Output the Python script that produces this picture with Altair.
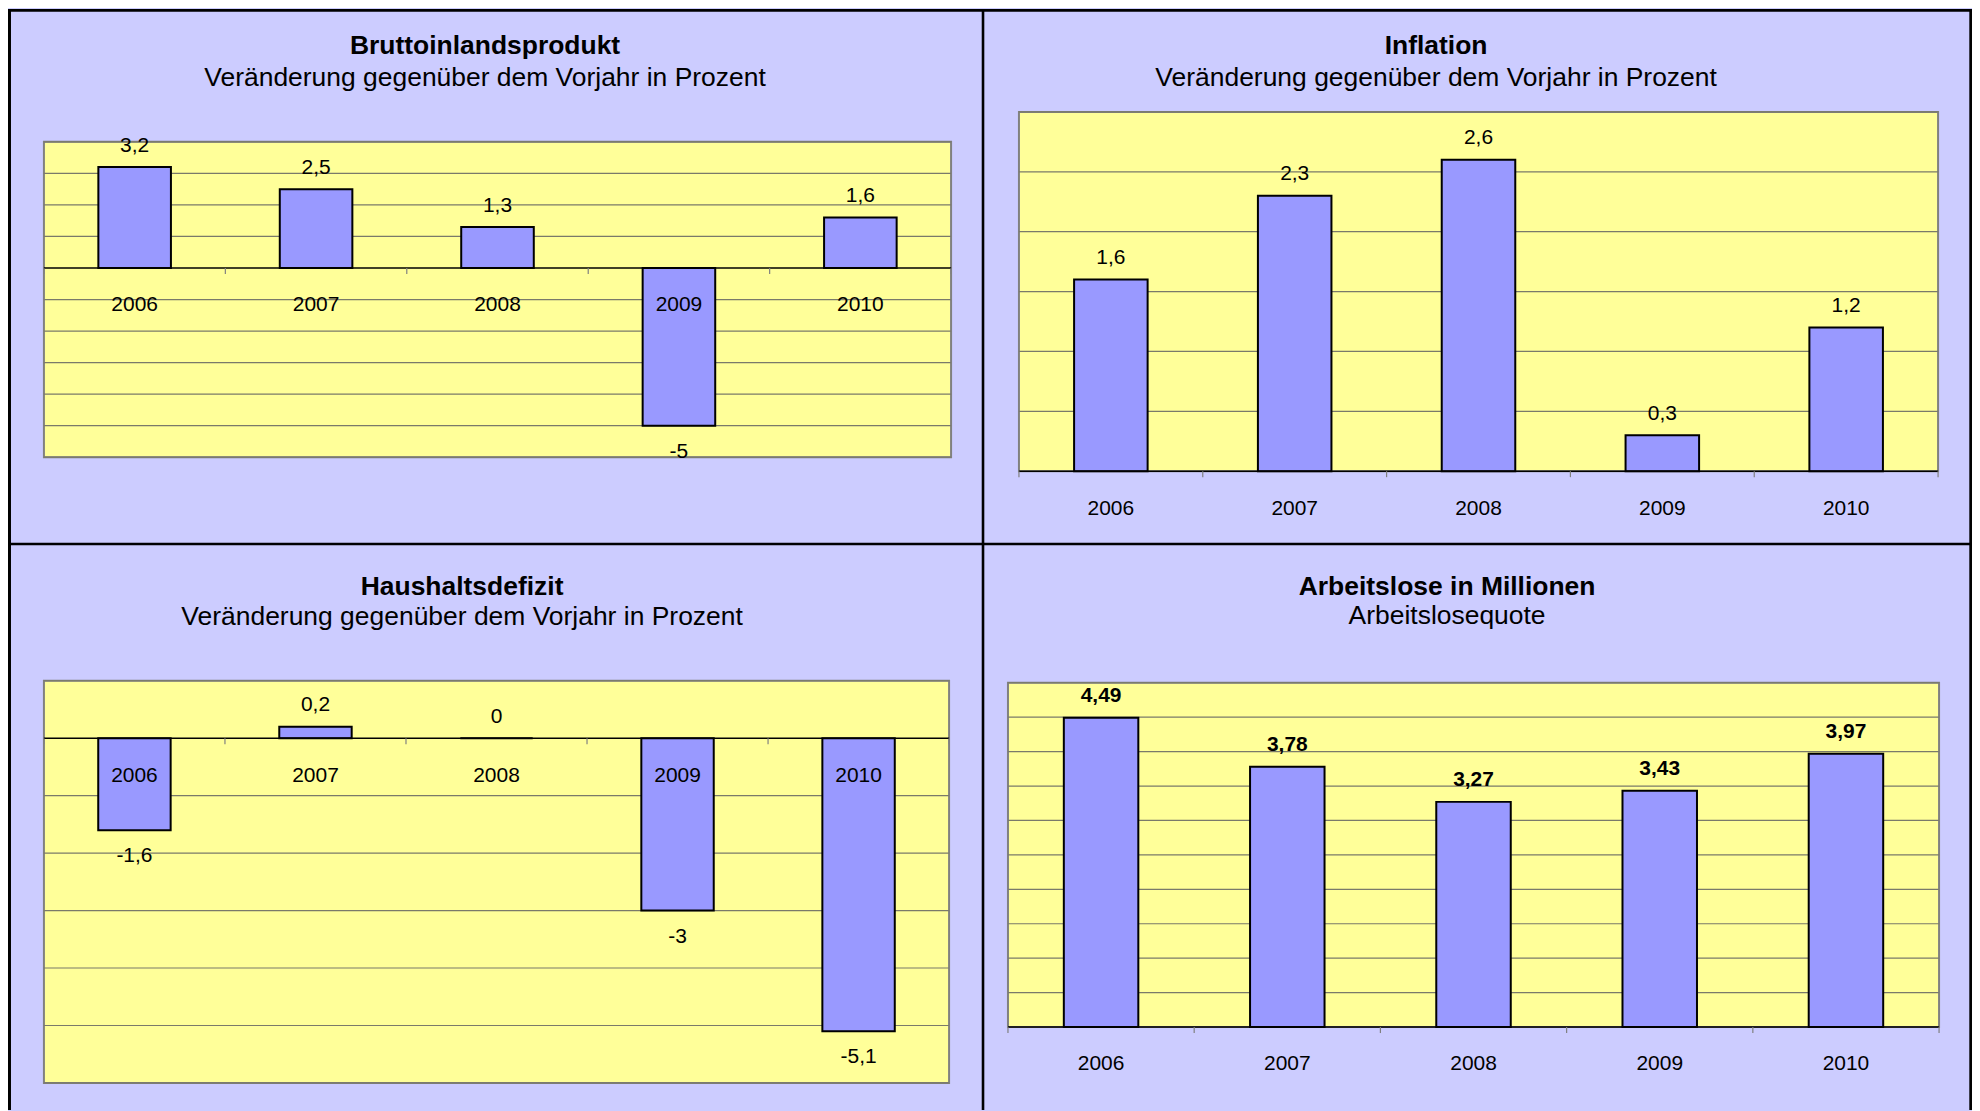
import altair as alt
import pandas as pd

# ---------------- data ----------------
years = ["2006", "2007", "2008", "2009", "2010"]
bip = [3.2, 2.5, 1.3, -5.0, 1.6]
inflation = [1.6, 2.3, 2.6, 0.3, 1.2]
defizit = [-1.6, 0.2, 0.0, -3.0, -5.1]
arbeitslose = [4.49, 3.78, 3.27, 3.43, 3.97]

titles = ["Bruttoinlandsprodukt", "Inflation", "Haushaltsdefizit", "Arbeitslose in Millionen"]
subtitles = [
    "Veränderung gegenüber dem Vorjahr in Prozent",
    "Veränderung gegenüber dem Vorjahr in Prozent",
    "Veränderung gegenüber dem Vorjahr in Prozent",
    "Arbeitslosequote",
]

domains = [(-6, 4), (0, 3), (-6, 1), (0, 5)]
grid_values = [
    [-6, -5, -4, -3, -2, -1, 1, 2, 3, 4],
    [0.5, 1.0, 1.5, 2.0, 2.5, 3.0],
    [-6, -5, -4, -3, -2, -1, 1],
    [0.5, 1.0, 1.5, 2.0, 2.5, 3.0, 3.5, 4.0, 4.5, 5.0],
]

# ---------------- styling / layout ----------------
FONT = "Liberation Sans"
LAVENDER = "#CCCCFF"
YELLOW = "#FFFF99"
BAR = "#9999FF"
GRID = "#7a7a6a"
FRAME = "#808080"

W, H = 1968, 1103
# plot boxes: x0, x1, y_bottom, y_top (chart pixels)
boxes = [
    (36, 945, 449, 133),
    (1013, 1934, 463, 103),
    (36, 943, 1076, 673),
    (1002, 1935, 1020, 675),
]
# title centre x, title baseline, subtitle baseline
title_pos = [
    (478, 45, 77),
    (1431, 45, 77),
    (455, 587, 617),
    (1442, 587, 616),
]


def de(v):
    return f"{v:g}".replace(".", ",")


def panel(i, values, bold_values=False):
    x0, x1, yb, yt = boxes[i]
    lo, hi = domains[i]
    slot = (x1 - x0) / len(years)
    df = pd.DataFrame({"year": years, "value": values, "label": [de(v) for v in values]})

    xscale = alt.Scale(domain=years, range=[x0, x1], paddingInner=0.6, paddingOuter=0.3)
    yscale = alt.Scale(domain=[lo, hi], range=[yb, yt], nice=False, zero=False)
    X = alt.X("year:N", scale=xscale, axis=None)

    plot_bg = alt.Chart(pd.DataFrame({"a": [0]})).mark_rect(
        fill=YELLOW, stroke=FRAME, strokeWidth=2
    ).encode(
        x=alt.value(x0), x2=alt.value(x1),
        y=alt.Y(datum=hi, type="quantitative", scale=yscale, axis=None),
        y2=alt.datum(lo),
    )

    grid = alt.Chart(pd.DataFrame({"g": grid_values[i]})).mark_rule(
        color=GRID, strokeWidth=1.2
    ).encode(
        x=alt.value(x0), x2=alt.value(x1),
        y=alt.Y("g:Q", scale=yscale, axis=None),
    )

    base = alt.Chart(df)
    bars = base.mark_bar(fill=BAR, stroke="black", strokeWidth=2).encode(
        x=X, y=alt.Y("value:Q", scale=yscale, axis=None)
    )

    zero_line = alt.Chart(pd.DataFrame({"a": [0]})).mark_rule(
        color="black", strokeWidth=1.6
    ).encode(
        x=alt.value(x0), x2=alt.value(x1),
        y=alt.Y(datum=0, type="quantitative", scale=yscale, axis=None),
    )

    ticks = base.mark_rule(color=FRAME, strokeWidth=1.2, xOffset=-slot / 2, y2Offset=6).encode(
        x=X,
        y=alt.Y(datum=0, type="quantitative", scale=yscale, axis=None),
        y2=alt.datum(0),
    )
    end_tick = base.transform_filter(alt.datum.year == years[-1]).mark_rule(
        color=FRAME, strokeWidth=1.2, xOffset=slot / 2, y2Offset=6
    ).encode(
        x=X,
        y=alt.Y(datum=0, type="quantitative", scale=yscale, axis=None),
        y2=alt.datum(0),
    )

    xlabels = base.mark_text(
        font=FONT, fontSize=21, color="black", baseline="alphabetic", dy=43.5
    ).encode(
        x=X,
        y=alt.Y(datum=0, type="quantitative", scale=yscale, axis=None),
        text="year:N",
    )

    weight = "bold" if bold_values else "normal"
    pos_labels = base.transform_filter(alt.datum.value >= 0).mark_text(
        font=FONT, fontSize=21, fontWeight=weight, color="black",
        baseline="alphabetic", dy=-15.5,
    ).encode(x=X, y=alt.Y("value:Q", scale=yscale, axis=None), text="label:N")
    neg_labels = base.transform_filter(alt.datum.value < 0).mark_text(
        font=FONT, fontSize=21, fontWeight=weight, color="black",
        baseline="alphabetic", dy=32,
    ).encode(x=X, y=alt.Y("value:Q", scale=yscale, axis=None), text="label:N")

    cx, ty, sy = title_pos[i]
    tdf = pd.DataFrame({"t": [titles[i]], "s": [subtitles[i]]})
    title = alt.Chart(tdf).mark_text(
        font=FONT, fontSize=26.5, fontWeight="bold", color="black", baseline="alphabetic"
    ).encode(x=alt.value(cx), y=alt.value(ty), text="t:N")
    subtitle = alt.Chart(tdf).mark_text(
        font=FONT, fontSize=26.5, color="black", baseline="alphabetic"
    ).encode(x=alt.value(cx), y=alt.value(sy), text="s:N")

    return alt.layer(
        plot_bg, grid, bars, zero_line, ticks, end_tick, xlabels,
        pos_labels, neg_labels, title, subtitle
    )


# panel frame lines (black separators)
frame_df = pd.DataFrame({"a": [0]})
frames = [
    alt.Chart(frame_df).mark_rule(color="black", strokeWidth=2.6).encode(
        x=alt.value(0), x2=alt.value(W), y=alt.value(1.3)),
    alt.Chart(frame_df).mark_rule(color="black", strokeWidth=3).encode(
        x=alt.value(1.5), y=alt.value(0), y2=alt.value(H)),
    alt.Chart(frame_df).mark_rule(color="black", strokeWidth=2.7).encode(
        x=alt.value(W - 1.35), y=alt.value(0), y2=alt.value(H)),
    alt.Chart(frame_df).mark_rule(color="black", strokeWidth=2.6).encode(
        x=alt.value(977), y=alt.value(0), y2=alt.value(H)),
    alt.Chart(frame_df).mark_rule(color="black", strokeWidth=2.6).encode(
        x=alt.value(0), x2=alt.value(W), y=alt.value(536)),
]

chart = alt.layer(
    panel(0, bip),
    panel(1, inflation),
    panel(2, defizit),
    panel(3, arbeitslose, bold_values=True),
    *frames,
).resolve_scale(
    x="independent", y="independent"
).properties(
    width=W, height=H, padding=0, background=LAVENDER,
    autosize=alt.AutoSizeParams(type="none"),
).configure_view(stroke=None)

chart.save("out.html", embed_options={"renderer": "svg", "actions": False})
